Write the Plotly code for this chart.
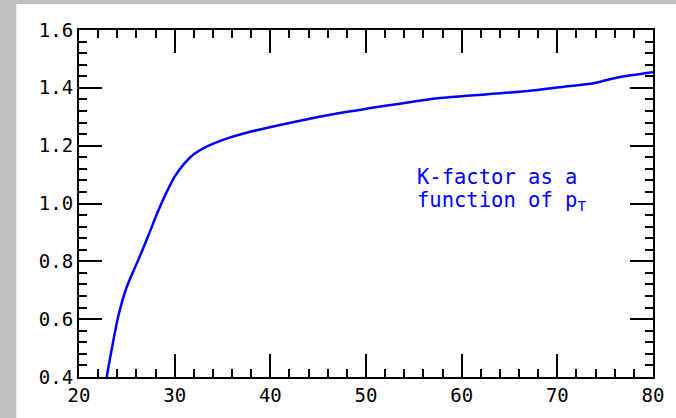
import plotly.graph_objects as go

pt = [22.9, 24.1, 25.0, 26.2, 27.2, 28.25, 29.1, 30.0, 31.0, 32.0, 33.5, 35.2, 37.3,
      42.6, 47.1, 50.3, 53.7, 57.5, 62.7, 66.9, 70.7, 73.8, 76.3, 80.0]
kfactor = [0.40, 0.609, 0.712, 0.805, 0.885, 0.972, 1.035, 1.093, 1.138, 1.170, 1.199, 1.222, 1.243,
           1.283, 1.312, 1.329, 1.346, 1.364, 1.378, 1.389, 1.404, 1.416, 1.436, 1.454]

x_ticks = [20, 30, 40, 50, 60, 70, 80]
y_ticks = [0.4, 0.6, 0.8, 1.0, 1.2, 1.4, 1.6]
note_lines = ["K-factor as a", "function of p<sub>T</sub>"]

FONT = "DejaVu Sans Mono"

fig = go.Figure()
fig.add_trace(go.Scatter(x=pt, y=kfactor, mode="lines",
                         line=dict(color="#0000ff", width=2.5, shape="spline", smoothing=0.8),
                         showlegend=False, hoverinfo="skip"))

axis_common = dict(showline=True, linecolor="black", linewidth=2, mirror="allticks",
                   ticks="inside", ticklen=23, tickwidth=2, tickcolor="black",
                   showgrid=False, zeroline=False,
                   tickfont=dict(family=FONT, size=19, color="black"))

fig.update_xaxes(range=[20, 80], tickvals=x_ticks, ticktext=[str(v) for v in x_ticks],
                 minor=dict(ticks="inside", ticklen=8, tickwidth=2, tickcolor="black", dtick=2, showgrid=False),
                 **axis_common)
fig.update_yaxes(range=[0.4, 1.6], tickvals=y_ticks, ticktext=[f"{v:.1f}" for v in y_ticks],
                 minor=dict(ticks="inside", ticklen=8, tickwidth=2, tickcolor="black", dtick=0.04, tick0=0.4, showgrid=False),
                 **axis_common)

W, H = 676, 418
ml, mr, mt, mb = 79, 20, 30, 41
pw, ph = W - ml - mr, H - mt - mb

def px_to_paper_x(px):
    return (px - ml) / pw

def py_to_paper_y(py):
    return (H - mb - py) / ph

fig.add_shape(type="rect", xref="paper", yref="paper", layer="below",
              x0=px_to_paper_x(16), x1=px_to_paper_x(W + 5),
              y0=py_to_paper_y(H + 5), y1=py_to_paper_y(4),
              fillcolor="white", line=dict(width=0))

for i, line in enumerate(note_lines):
    fig.add_annotation(x=55.1, xref="x", y=py_to_paper_y(163 + 23 * i), yref="paper",
                       xanchor="left", yanchor="top", align="left", showarrow=False,
                       text=line,
                       font=dict(family=FONT, size=20.5, color="#0000ff"))

fig.update_layout(width=W, height=H, margin=dict(l=ml, r=mr, t=mt, b=mb),
                  paper_bgcolor="#c0c0c0", plot_bgcolor="white")

fig.write_html("out.html")
